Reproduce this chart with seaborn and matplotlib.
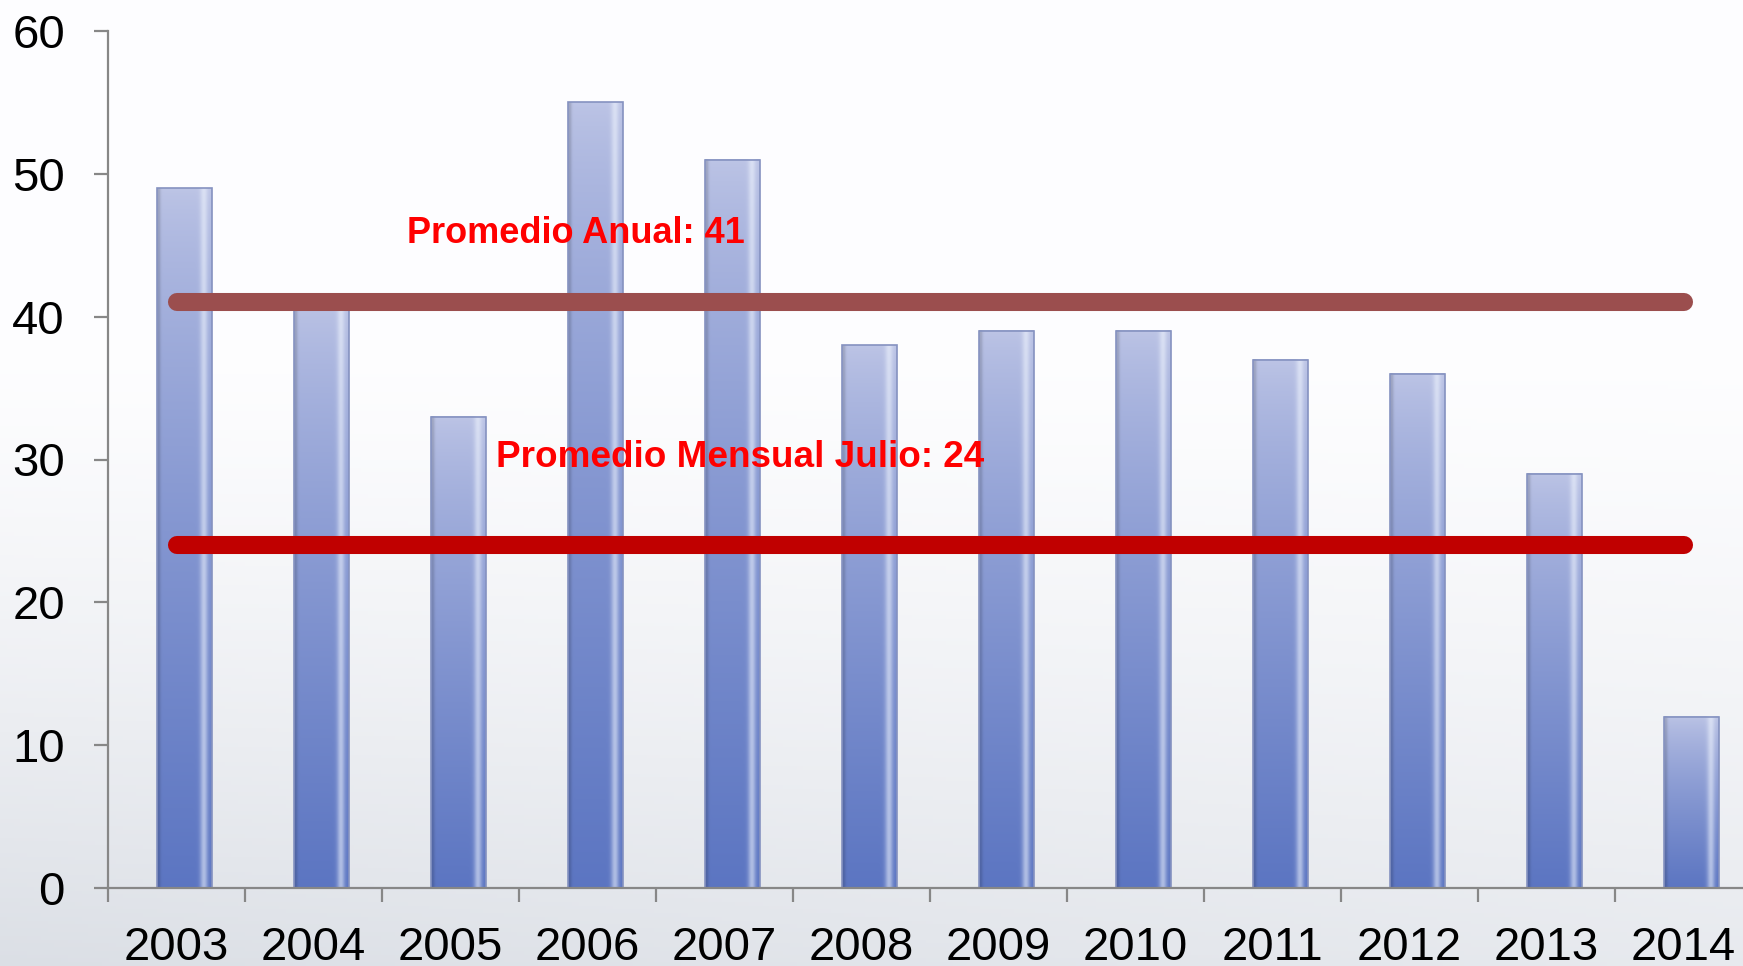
import numpy as np
import pandas as pd
import matplotlib
matplotlib.use("Agg")
import matplotlib.pyplot as plt
from matplotlib.ticker import FixedLocator, NullFormatter
import seaborn as sns

# ---- data ----
years = ["2003", "2004", "2005", "2006", "2007", "2008",
         "2009", "2010", "2011", "2012", "2013", "2014"]
values = [49, 41, 33, 55, 51, 38, 39, 39, 37, 36, 29, 12]
avg_annual = 41
avg_july = 24
label_annual = "Promedio Anual: 41"
label_july = "Promedio Mensual Julio: 24"
y_ticks = [0, 10, 20, 30, 40, 50, 60]

sns.set_theme(style="white")
plt.rcParams["font.family"] = ["Liberation Sans", "DejaVu Sans"]

W, H = 1743, 966
fig = plt.figure(figsize=(W / 100, H / 100), dpi=100)

# background gradient
bg = fig.add_axes([0, 0, 1, 1], zorder=-10)
gy = np.linspace(0, 1, 256)[:, None]
gx = np.linspace(0, 1, 256)[None, :]
top = np.array([0.995, 0.995, 1.0])
bot = np.array([0.86, 0.875, 0.90])
t = np.clip((gy - 0.35) / 0.65, 0, 1) ** 1.3
t = t * (1.0 - 0.35 * gx)
img = top[None, None, :] * (1 - t[..., None]) + bot[None, None, :] * t[..., None]
bg.imshow(img, aspect="auto", extent=[0, 1, 0, 1], origin="upper")
bg.set_axis_off()

left = 108 / W
bottom = (H - 888) / H
height = (888 - 31) / H
width = (137 * 12) / W
ax = fig.add_axes([left, bottom, width, height])
ax.patch.set_alpha(0)

df = pd.DataFrame({"year": years, "value": values})
sns.barplot(data=df, x="year", y="value", ax=ax, width=0.40,
            color="#6F86CF", saturation=1, edgecolor="#8592C0", linewidth=1.2)

off = 8 / 137
ax.set_xlim(-0.5 - off, len(years) - 0.5 - off)
ax.set_ylim(0, 60)

# gradient fill for bars
for p in ax.patches:
    x0, w, h = p.get_x(), p.get_width(), p.get_height()
    ny, nx = 200, 60
    vy = np.linspace(0, 1, ny)[:, None]  # 0 top -> 1 bottom
    vx = np.linspace(0, 1, nx)[None, :]
    ctop = np.array([0.74, 0.77, 0.90])
    cbot = np.array([0.36, 0.46, 0.76])
    s = np.clip(vy ** 0.75, 0, 1)
    base = ctop[None, None, :] * (1 - s[..., None]) + cbot[None, None, :] * s[..., None]
    base = np.broadcast_to(base, (ny, nx, 3)).copy()
    # right highlight band
    hl = np.exp(-((vx - 0.86) / 0.07) ** 2)
    hl = np.broadcast_to(hl, (ny, nx))
    base = base + (np.array([0.95, 0.97, 1.0]) - base) * (0.55 * hl)[..., None]
    # left dark edge
    dk = np.exp(-((vx - 0.02) / 0.04) ** 2)
    dk = np.broadcast_to(dk, (ny, nx))
    base = base * (1 - 0.15 * dk)[..., None]
    ax.imshow(np.clip(base, 0, 1), extent=[x0, x0 + w, 0, h],
              aspect="auto", origin="upper", zorder=2.1)
    p.set_facecolor("none")
    p.set_zorder(2.2)

# average lines
xs = [0 - off, len(years) - 1 - off]
ax.plot(xs, [avg_annual, avg_annual], color="#9B4E4E", lw=13,
        solid_capstyle="round", zorder=3)
ax.plot(xs, [avg_july, avg_july], color="#C00000", lw=13,
        solid_capstyle="round", zorder=3)

ax.text(1.624, 45.17, label_annual, color="#FF0000", fontsize=26,
        fontweight="bold", ha="left", va="baseline", zorder=4)
ax.text(2.274, 29.5, label_july, color="#FF0000", fontsize=26.6,
        fontweight="bold", ha="left", va="baseline", zorder=4)

# axes styling
for sp in ["top", "right"]:
    ax.spines[sp].set_visible(False)
for sp in ["left", "bottom"]:
    ax.spines[sp].set_color("#878787")
    ax.spines[sp].set_linewidth(1.6)
ax.spines["left"].set_zorder(5)

ax.set_yticks(y_ticks)
ax.set_yticklabels([str(v) for v in y_ticks])
ax.tick_params(axis="y", which="major", length=10, width=1.6, color="#878787",
               pad=21, labelsize=34, labelcolor="black", left=True)

ax.set_xticks([i - off for i in range(len(years))])
ax.set_xticklabels(years)
ax.xaxis.set_minor_locator(FixedLocator([i - 0.5 - off for i in range(len(years) + 1)]))
ax.xaxis.set_minor_formatter(NullFormatter())
ax.tick_params(axis="x", which="major", length=0, pad=27, labelsize=34,
               labelcolor="black")
ax.tick_params(axis="x", which="minor", length=10, width=1.6,
               color="#878787", bottom=True)
ax.set_xlabel("")
ax.set_ylabel("")
ax.grid(False)

fig.savefig("out.png", dpi=100)
